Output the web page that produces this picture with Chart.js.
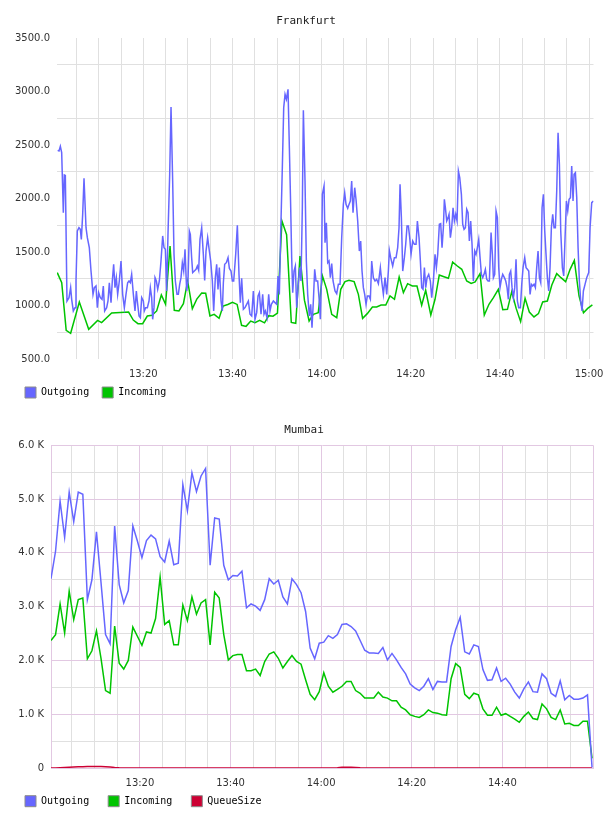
<!DOCTYPE html>
<html>
<head>
<meta charset="utf-8">
<script src="https://cdn.jsdelivr.net/npm/chart.js@4.4.1/dist/chart.umd.min.js"></script>
<style>
html, body { margin: 0; padding: 0; background: #fff; overflow: hidden; width: 608px; height: 816px; }
canvas { position: absolute; left: 0; }
#chart-fra { top: 0; }
#chart-mum { top: 405px; }
</style>
</head>
<body>
<canvas id="chart-fra" width="608" height="423"></canvas>
<canvas id="chart-mum" width="608" height="433"></canvas>
<script>
'use strict';

/* ── Frankfurt: minutes after 13:00 / bytes ───────────────────── */
const fraOutMin = [
    0.79, 1.09, 1.39, 1.69, 2.06, 2.28, 2.51, 2.88, 3.33, 3.70,
    3.93, 4.30, 4.68, 4.90, 5.20, 5.57, 5.87, 6.10, 6.40, 6.70,
    7.15, 7.45, 7.89, 8.27, 8.72, 9.02, 9.39, 9.69, 9.99, 10.36,
    10.74, 11.03, 11.33, 11.78, 12.08, 12.38, 12.76, 13.05, 13.35, 13.65,
    13.95, 14.25, 14.62, 15.00, 15.37, 15.75, 16.12, 16.49, 16.79, 17.09,
    17.39, 17.77, 18.14, 18.44, 18.66, 19.04, 19.34, 19.64, 20.01, 20.23,
    20.53, 20.91, 21.28, 21.58, 21.88, 22.10, 22.40, 22.63, 22.93, 23.23,
    23.60, 23.97, 24.35, 24.65, 24.95, 25.24, 25.54, 25.92, 26.22, 26.59,
    26.89, 27.19, 27.56, 27.86, 28.16, 28.46, 28.76, 29.06, 29.36, 29.73,
    30.03, 30.33, 30.55,
    30.85, 31.08, 31.45, 31.83, 32.13, 32.42, 32.72, 33.10, 33.47, 33.77,
    34.07, 34.44, 34.82, 35.12, 35.49, 35.79, 36.16, 36.46, 36.76, 37.06,
    37.44, 37.73, 37.96, 38.26, 38.63, 39.01, 39.31, 39.68, 39.98, 40.28,
    40.73, 41.10, 41.47, 41.77, 42.07, 42.45, 42.82, 43.19, 43.57, 43.94,
    44.32, 44.69, 45.06, 45.44, 45.74, 46.04, 46.41, 46.78, 47.08, 47.38,
    47.76, 48.13, 48.43, 48.73, 49.18, 49.55, 49.93, 50.22, 50.52, 50.82,
    51.20, 51.50, 51.80, 52.10, 52.47, 52.77, 53.07, 53.29, 53.52, 53.81,
    54.11, 54.41, 54.79, 55.08, 55.38, 55.68, 55.91, 56.28, 56.58, 56.88,
    57.25, 57.55, 57.85, 58.15, 58.45, 58.75, 59.12, 59.42, 59.72, 59.95,
    60.17, 60.55, 60.77, 61.07,
    61.37, 61.67, 61.97, 62.27, 62.57, 63.01, 63.39, 63.76, 64.14, 64.51,
    64.88, 65.18, 65.48, 65.86, 66.15, 66.45, 66.75, 67.05, 67.43, 67.73,
    68.10, 68.47, 68.77, 69.07, 69.37, 69.67, 69.97, 70.27, 70.64, 70.94,
    71.24, 71.61, 71.99, 72.36, 72.74, 73.18, 73.48, 73.86, 74.23, 74.61,
    74.98, 75.20, 75.50, 75.95, 76.33, 76.70, 77.07, 77.37, 77.60, 77.90,
    78.20, 78.57, 78.87, 79.17, 79.47, 79.77, 80.07, 80.44, 80.81, 81.19,
    81.49, 81.86, 82.16, 82.46, 82.76, 83.06, 83.36, 83.66, 84.03, 84.40,
    84.70, 85.08, 85.45, 85.75, 86.05, 86.42, 86.72, 87.02, 87.32, 87.54,
    87.77, 88.07, 88.37, 88.59, 88.89, 89.19, 89.49, 89.79, 90.09, 90.39,
    90.69, 90.99,
    91.36, 91.66, 91.96, 92.26, 92.56, 92.86, 93.15, 93.45, 93.75, 94.05,
    94.35, 94.65, 94.95, 95.25, 95.55, 95.85, 96.15, 96.44, 96.74, 97.04,
    97.34, 97.64, 98.02, 98.31, 98.54, 98.84, 99.14, 99.44, 99.74, 100.03,
    100.33, 100.63, 101.01, 101.31, 101.61, 101.90, 102.13, 102.43, 102.73, 103.03,
    103.33, 103.62, 103.92, 104.22, 104.60, 104.90, 105.20, 105.57, 105.87, 106.17,
    106.47, 106.77, 107.06, 107.36, 107.66, 107.96, 108.26, 108.56, 108.86, 109.16,
    109.46, 109.76, 110.06, 110.35, 110.65, 110.95, 111.25, 111.55, 111.85, 112.15,
    112.45, 112.75, 113.05, 113.35, 113.65, 114.02, 114.32, 114.62, 114.92, 115.22,
    115.52, 115.82, 116.11, 116.41, 116.64, 116.94, 117.24, 117.54, 117.83, 118.13,
    118.43, 118.73, 119.10, 119.48, 119.93, 120.23, 120.60, 120.98
];
const fraOutVal = [
    2450, 2444, 2487, 2428, 1868, 2220, 2216, 1042, 1073, 1167,
    1058, 949, 980, 1229, 1696, 1727, 1712, 1618, 1852, 2188,
    1727, 1634, 1541, 1322, 1104, 1167, 1182, 980, 1120, 1073,
    1058, 1182, 949, 980, 1042, 1213, 1027, 1229, 1385, 1167,
    1260, 1104, 1229, 1416, 1104, 980, 1104, 1213, 1229, 1213,
    1291, 1104, 949, 1136, 1042, 902, 886, 1073, 1042, 949,
    980, 980, 1042, 1167, 1073, 871, 980, 1260, 1229, 1151,
    1229, 1416, 1650, 1541, 1525, 1136, 1665, 2226, 2855, 2164,
    1478, 1229, 1104, 1104, 1198, 1260, 1400, 1322, 1525, 1136,
    1229, 1696, 1665,
    1447, 1307, 1322, 1338, 1369, 1329, 1618, 1727, 1478, 1235,
    1509, 1634, 1509, 1416, 1229, 949, 1260, 1385, 1151, 1354,
    1042, 949, 1213, 1385, 1400, 1447, 1347, 1322, 1229, 1229,
    1478, 1749, 1291, 1027, 1254, 964, 980, 1011, 1042, 918,
    902, 1136, 871, 933, 1089, 1120, 918, 1104, 918, 949,
    886, 1104, 949, 1011, 1042, 1027, 1011, 1276, 1104, 1665,
    2304, 2849, 2973, 2927, 3020, 2475, 1914, 1447, 1120, 1322,
    1369, 980, 1213, 1354, 1229, 1914, 2824, 2164, 1416, 1104,
    902, 1011, 793, 1042, 1338, 1229, 1229, 1073, 871, 1229,
    2039, 2117, 1587, 1774,
    1400, 1416, 1260, 1391, 1229, 1136, 1111, 1198, 1198, 1634,
    1945, 2054, 1945, 1908, 1945, 1977, 2164, 1868, 2101, 1988,
    1790, 1509, 1603, 1322, 1167, 1104, 1011, 1089, 1089, 1058,
    1416, 1260, 1229, 1245, 1204, 1354, 1229, 1104, 1260, 1104,
    1322, 1516, 1447, 1369, 1447, 1447, 1541, 1727, 2132, 1821,
    1322, 1447, 1572, 1743, 1743, 1634, 1478, 1603, 1572, 1572,
    1790, 1634, 1416, 1167, 1151, 1354, 1167, 1260, 1291, 1229,
    1073, 1229, 1478, 1354, 1478, 1759, 1765, 1541, 1727, 1992,
    1914, 1790, 1821, 1852, 1634, 1727, 1914, 1790, 1852, 1790,
    2257, 2195,
    2039, 1759, 1712, 1727, 1899, 1868, 1603, 1790, 1572, 1229,
    1509, 1478, 1541, 1618, 1447, 1291, 1260, 1291, 1338, 1245,
    1229, 1229, 1681, 1478, 1260, 1291, 1883, 1821, 1354, 1167,
    1245, 1291, 1260, 1229, 1167, 1058, 1291, 1322, 1167, 1073,
    1167, 1432, 1042, 980, 980, 1198, 1354, 1447, 1354, 1338,
    1322, 1104, 1198, 1182, 1198, 1167, 1354, 1509, 1260, 1213,
    1914, 2039, 1696, 1478, 1260, 1136, 1354, 1727, 1852, 1727,
    1727, 2070, 2615, 2319, 1696, 1354, 1276, 1634, 1977, 1883,
    1992, 2008, 2304, 1977, 2226, 2241, 2008, 1541, 1229, 1042,
    949, 1136, 1198, 1260, 1307, 1727, 1961, 1977
];
const fraInMin = [
    0.7, 1.7, 2.7, 3.7, 5.65, 7.75, 9.75, 10.65, 12.9, 16.7,
    17.75, 18.8, 19.85, 20.9, 21.95, 23.0, 24.05, 25.0, 26.0, 26.95,
    28.0, 29.0, 29.95, 31.0, 32.0, 33.1, 34.0, 34.95, 35.9, 37.0,
    37.9, 38.95, 40.0, 41.05, 42.05, 43.05, 44.1, 45.05, 46.1, 47.2,
    48.15, 49.1, 50.1, 51.1, 52.15, 53.2, 54.2, 55.15, 56.15, 57.2,
    58.15, 59.25, 60.2, 61.15, 62.27, 63.4, 64.3, 65.25, 66.15, 67.3,
    68.25, 69.2, 70.25, 71.4, 72.35, 73.35, 74.4, 75.35, 76.35, 77.4,
    78.35, 79.3, 80.35, 81.4, 82.45, 83.35, 84.5, 85.45, 86.4, 87.45,
    88.45, 89.4, 90.45, 91.45, 92.55, 93.55, 94.45, 95.55, 96.5, 97.55,
    98.55, 99.65, 100.65, 101.7, 102.65, 103.65, 104.65, 105.65, 106.6, 107.65,
    108.65, 109.6, 110.65, 111.65, 112.75, 113.7, 114.75, 115.75, 116.7, 117.75,
    118.75, 119.7, 120.75
];
const fraInVal = [
    1307, 1213, 768, 740, 1033, 777, 861, 840, 930, 939,
    864, 830, 830, 902, 908, 949, 1098, 1011, 1556, 955,
    949, 1017, 1229, 970, 1060, 1117, 1114, 902, 917, 880,
    995, 1010, 1030, 1010, 815, 805, 855, 840, 862, 838,
    905, 900, 930, 1790, 1662, 842, 834, 1463, 1050, 855,
    917, 933, 1276, 1151, 918, 886, 1151, 1223, 1235, 1223,
    1104, 880, 924, 986, 986, 1005, 1005, 1089, 1058, 1266,
    1120, 1204, 1182, 1182, 1002, 1142, 911, 1058, 1285, 1269,
    1254, 1406, 1369, 1338, 1229, 1207, 1220, 1298, 911, 1011,
    1073, 1151, 961, 964, 1129, 973, 849, 1067, 939, 893,
    924, 1033, 1042, 1192, 1298, 1260, 1223, 1338, 1422, 1089,
    933, 973, 1005
];

/* ── Mumbai: one sample per minute from 13:00:22 ──────────────── */
const mumStartMin = 0.37;
const mumStepMin  = 1.0035;
const mumOut = [
    3520, 4030, 4960, 4290, 5130, 4580, 5130, 5090, 3130, 3500,
    4390, 3450, 2480, 2310, 4500, 3410, 3070, 3300, 4500, 4220,
    3910, 4230, 4330, 4260, 3930, 3830, 4220, 3780, 3810, 5270,
    4780, 5490, 5140, 5430, 5570, 3770, 4650, 4630, 3770, 3500,
    3580, 3570, 3660, 2980, 3050, 3010, 2930, 3130, 3520, 3420,
    3490, 3180, 3050, 3520, 3410, 3260, 2910, 2230, 2030, 2320,
    2340, 2460, 2410, 2480, 2670, 2680, 2630, 2550, 2370, 2190,
    2140, 2140, 2130, 2240, 2010, 2130, 2010, 1870, 1750, 1560,
    1490, 1440, 1520, 1660, 1460, 1610, 1600, 1600, 2260, 2570,
    2800, 2160, 2120, 2290, 2260, 1830, 1630, 1640, 1860, 1610,
    1670, 1560, 1410, 1300, 1470, 1600, 1420, 1410, 1750, 1660,
    1390, 1330, 1620, 1270, 1350, 1280, 1280, 1300, 1360, 10
];
const mumIn = [
    2370, 2480, 3050, 2510, 3290, 2760, 3130, 3160, 2030, 2180,
    2550, 2040, 1440, 1390, 2640, 1950, 1840, 2000, 2620, 2450,
    2280, 2530, 2510, 2780, 3550, 2670, 2740, 2290, 2290, 3030,
    2740, 3180, 2860, 3070, 3130, 2290, 3270, 3160, 2480, 2010,
    2090, 2110, 2110, 1810, 1810, 1840, 1720, 1980, 2120, 2160,
    2040, 1860, 1980, 2090, 1980, 1930, 1640, 1370, 1270, 1420,
    1770, 1520, 1410, 1460, 1520, 1610, 1610, 1440, 1390, 1300,
    1300, 1300, 1410, 1320, 1300, 1250, 1250, 1130, 1080, 990,
    960, 940, 990, 1080, 1030, 1020, 990, 980, 1660, 1940,
    1870, 1370, 1290, 1390, 1360, 1100, 980, 980, 1130, 980,
    1010, 960, 910, 850, 960, 1040, 920, 900, 1190, 1100,
    940, 900, 1080, 820, 830, 790, 790, 870, 870, 180
];
const mumQueue = [
    0, 0, 5, 10, 15, 20, 22, 25, 28, 30,
    30, 28, 25, 18, 10, 4, 0, 0, 0, 0,
    0, 0, 0, 0, 0, 0, 0, 0, 0, 0,
    0, 0, 0, 0, 0, 0, 0, 0, 0, 0,
    0, 0, 0, 0, 0, 0, 0, 0, 0, 0,
    0, 0, 0, 0, 0, 0, 0, 0, 0, 0,
    0, 0, 0, 5, 12, 15, 15, 10, 4, 0,
    0, 0, 0, 0, 0, 0, 0, 0, 0, 0,
    0, 0, 0, 0, 0, 0, 0, 0, 0, 0,
    0, 0, 0, 0, 0, 0, 0, 0, 0, 0,
    0, 0, 0, 0, 0, 0, 0, 0, 0, 0,
    0, 0, 0, 0, 0, 0, 0, 0, 0, 0
];

const C_OUT   = '#6666ff';
const C_IN    = '#00c400';
const C_QUEUE = '#cc0033';
const GRID    = '#e0e0e0';
const PURPLE  = '#e2c8e2';
const TICK_FONT  = { family: 'DejaVu Sans', size: 10 };
const MONO_FONT  = { family: 'DejaVu Sans Mono', size: 10 };
const TITLE_FONT = { family: 'DejaVu Sans Mono', size: 11, weight: 'normal' };

const hhmm = v => {
    const t = Math.round(v);
    return `${13 + Math.floor(t / 60)}:${String(t % 60).padStart(2, '0')}`;
};
const pairs = (xs, ys) => xs.map((x, i) => ({ x, y: ys[i] }));
const stepTicks = (scale, step) => {
    const t = [];
    for (let v = Math.ceil(scale.min / step - 1e-9) * step; v <= scale.max + 1e-9; v += step) t.push({ value: v });
    return t;
};

// Legend and title sit at fixed page positions (legend left aligned, title centred on the page)
const boxesAt = {
    id: 'boxesAt',
    afterLayout(chart, args, opts) {
        const lg = chart.legend;
        if (lg) {
            const pad = lg.options.labels.padding;
            const w = lg.width, h = lg.height;
            lg.left = opts.left - pad; lg.right = lg.left + w;
            lg.top  = opts.top  - pad; lg.bottom = lg.top + h;
        }
        const tb = chart.titleBlock;
        if (tb && opts.titleX != null) {
            tb.left = opts.titleX - 150; tb.right = opts.titleX + 150; tb.width = 300;
        }
    }
};

function line(label, data, color) {
    return { label, data, borderColor: color, backgroundColor: color, borderWidth: 1.5,
             pointRadius: 0, pointHoverRadius: 0, tension: 0, fill: false };
}

function legendOpts(padding) {
    return {
        position: 'bottom', align: 'start',
        labels: {
            boxWidth: 11, boxHeight: 11, padding, color: '#111', font: MONO_FONT,
            generateLabels: chart => chart.data.datasets.map((d, i) => ({
                text: d.label, fillStyle: d.borderColor, strokeStyle: '#8c8c8c',
                lineWidth: 1, hidden: false, datasetIndex: i
            }))
        }
    };
}

// keep the last time label from pulling the plot edge inwards
const noEdgePad = s => { s.paddingLeft = 0; s.paddingRight = 0; };

/* ── Frankfurt ── */
new Chart(document.getElementById('chart-fra'), {
    type: 'line',
    data: { datasets: [
        line('Outgoing', pairs(fraOutMin, fraOutVal), C_OUT),
        line('Incoming', pairs(fraInMin, fraInVal), C_IN)
    ] },
    options: {
        responsive: false, animation: false, devicePixelRatio: 1,
        layout: { padding: { left: 0, right: 14.5, top: 0, bottom: 0 } },
        plugins: {
            title: { display: true, text: 'Frankfurt', color: '#222', font: TITLE_FONT, padding: { top: 14.4, bottom: 10.4 } },
            legend: legendOpts(13),
            boxesAt: { left: 25, top: 387, titleX: 306 },
            tooltip: { enabled: false }
        },
        scales: {
            x: {
                type: 'linear', min: 0.64, max: 121.0,
                afterBuildTicks: s => { s.ticks = stepTicks(s, 5); },
                afterFit: noEdgePad,
                ticks: { autoSkip: false, maxRotation: 0, padding: 9, color: '#333', font: TICK_FONT,
                         callback: v => (Math.round(v) % 20 === 0 ? hhmm(v) : '') },
                grid: { color: GRID, drawTicks: false },
                border: { display: false }
            },
            y: {
                min: 500, max: 3500,
                afterBuildTicks: s => { s.ticks = stepTicks(s, 250); },
                afterFit: s => { s.width = 57; },
                ticks: { autoSkip: false, padding: 7, color: '#333', font: TICK_FONT,
                         callback: v => (v % 500 === 0 ? v.toFixed(1) : '') },
                grid: { drawTicks: false, color: c => (c.tick && c.tick.value % 500 === 0 ? 'rgba(0,0,0,0)' : GRID) },
                border: { display: false }
            }
        }
    },
    plugins: [boxesAt]
});

/* ── Mumbai ── */
const mumMin = mumOut.map((_, i) => mumStartMin + i * mumStepMin);

new Chart(document.getElementById('chart-mum'), {
    type: 'line',
    data: { datasets: [
        line('Outgoing', pairs(mumMin, mumOut), C_OUT),
        line('Incoming', pairs(mumMin, mumIn), C_IN),
        line('QueueSize', pairs(mumMin, mumQueue), C_QUEUE)
    ] },
    options: {
        responsive: false, animation: false, devicePixelRatio: 1,
        layout: { padding: { left: 0, right: 15, top: 0, bottom: 0 } },
        plugins: {
            title: { display: true, text: 'Mumbai', color: '#222', font: TITLE_FONT, padding: { top: 18.4, bottom: 8.7 } },
            legend: legendOpts(19),
            boxesAt: { left: 25, top: 390.7, titleX: 304 },
            tooltip: { enabled: false }
        },
        scales: {
            x: {
                type: 'linear', min: 0.37, max: 120,
                afterBuildTicks: s => { s.ticks = [{ value: s.min }].concat(stepTicks(s, 5)); },
                afterFit: noEdgePad,
                ticks: { autoSkip: false, maxRotation: 0, padding: 9, color: '#333', font: TICK_FONT,
                         callback: v => (Math.abs(v - Math.round(v)) < 1e-6 && v % 20 === 0 && v < 120 ? hhmm(v) : '') },
                grid: { drawTicks: false,
                        color: c => (c.tick && (c.tick.value % 20 === 0 || c.index === 0) ? PURPLE : GRID) },
                border: { color: PURPLE }
            },
            y: {
                min: 0, max: 6000,
                afterBuildTicks: s => { s.ticks = stepTicks(s, 500); },
                afterFit: s => { s.width = 51; },
                ticks: { autoSkip: false, padding: 7, color: '#333', font: TICK_FONT,
                         callback: v => (v % 1000 !== 0 ? '' : v === 0 ? '0' : (v / 1000).toFixed(1) + ' K') },
                grid: { drawTicks: false, color: c => (c.tick && c.tick.value % 1000 === 0 ? PURPLE : GRID) },
                border: { color: PURPLE }
            }
        }
    },
    plugins: [boxesAt]
});
</script>
</body>
</html>
